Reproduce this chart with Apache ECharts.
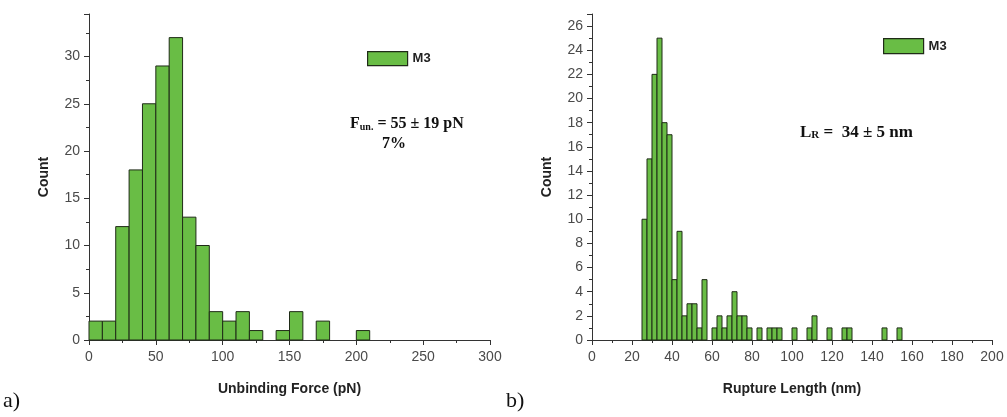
<!DOCTYPE html>
<html>
<head>
<meta charset="utf-8">
<script src="https://cdn.jsdelivr.net/npm/echarts@6/dist/echarts.min.js"></script>
<style>
html,body{margin:0;padding:0;background:#fff;}
#c{width:1007px;height:417px;}
</style>
</head>
<body>
<div id="c"></div>
<script>
// ---- data ----
var forceBinStarts = [0,10,20,30,40,50,60,70,80,90,100,110,120,130,140,150,160,170,180,190,200];
var forceCounts    = [2, 2,12,18,25,29,32,13,10, 3,  2,  3,  1,  0,  1,  3,  0,  2,  0,  0,  1];
var forceBinWidth = 10;

var lengthBinStarts = [25,27.5,30,32.5,35,37.5,40,42.5,45,47.5,50,52.5,55,57.5,60,62.5,65,67.5,70,72.5,75,77.5,80,82.5,85,87.5,90,92.5,95,97.5,100,102.5,105,107.5,110,112.5,115,117.5,120,122.5,125,127.5,130,132.5,135,137.5,140,142.5,145,147.5,150,152.5];
var lengthCounts    = [10,15,22,25,18,17,5,9,2,3,3,1,5,0,1,2,1,2,4,2,2,1,0,1,0,1,1,1,0,0,1,0,0,1,2,0,0,1,0,0,1,1,0,0,0,0,0,0,1,0,0,1];
var lengthBinWidth = 2.5;

var forceXTicks = [0,300,50];
var forceYTicks = [0,34.5,5];
var lengthXTicks = [0,200,20];
var lengthYTicks = [0,27,2];

var seriesName = 'M3';
var forceTitle = 'Unbinding Force (pN)';
var lengthTitle = 'Rupture Length (nm)';
var yTitle = 'Count';

function toBins(starts, counts, w){
  return starts.map(function(s,i){ return [s, s + w, counts[i]]; });
}

var FILL = '#69bd45';
var STROKE = '#1f2b17';

function renderItem(params, api){
  var v = api.value(2);
  if (!v) return null;
  var p0 = api.coord([api.value(0), v]);
  var p1 = api.coord([api.value(1), 0]);
  return {
    type:'rect',
    shape:{x:p0[0], y:p0[1], width:p1[0]-p0[0], height:p1[1]-p0[1]},
    style:{fill:FILL, stroke:STROKE, lineWidth:1}
  };
}

var SANS = 'Liberation Sans, Arial, sans-serif';
var axisCommon = {
  axisLine:{show:true, onZero:false, lineStyle:{color:'#333', width:1}},
  axisTick:{show:true, inside:false, length:5, lineStyle:{color:'#333'}},
  minorTick:{show:true, splitNumber:2, length:3, lineStyle:{color:'#333'}},
  splitLine:{show:false},
  axisLabel:{color:'#4a4a4a', fontFamily:SANS, fontSize:14, margin:9, showMaxLabel:false},
  nameTextStyle:{color:'#222', fontFamily:SANS, fontSize:14, fontWeight:'bold'}
};
function ax(extra){ return echarts.util.merge(echarts.util.clone(axisCommon), extra, true); }

var SERIF = 'Liberation Serif, Times New Roman, serif';

var option = {
  animation:false,
  backgroundColor:'#fff',
  grid:[
    {left:89, right:517, top:14, bottom:77},
    {left:592, right:15, top:14, bottom:77}
  ],
  xAxis:[
    ax({type:'value', gridIndex:0, min:forceXTicks[0], max:forceXTicks[1], interval:forceXTicks[2],
        name:forceTitle, nameLocation:'middle', nameGap:42, axisLabel:{showMaxLabel:true, margin:10}}),
    ax({type:'value', gridIndex:1, min:lengthXTicks[0], max:lengthXTicks[1], interval:lengthXTicks[2],
        name:lengthTitle, nameLocation:'middle', nameGap:42, axisLabel:{showMaxLabel:true, margin:10}})
  ],
  yAxis:[
    ax({type:'value', gridIndex:0, min:forceYTicks[0], max:forceYTicks[1], interval:forceYTicks[2],
        name:yTitle, nameLocation:'middle', nameGap:38}),
    ax({type:'value', gridIndex:1, min:lengthYTicks[0], max:lengthYTicks[1], interval:lengthYTicks[2],
        name:yTitle, nameLocation:'middle', nameGap:38})
  ],
  legend:[
    {left:362, top:46, itemWidth:40, itemHeight:14, itemGap:5, data:[{name:seriesName, icon:'rect'}],
     itemStyle:{color:FILL, borderColor:STROKE, borderWidth:1.2},
     textStyle:{color:'#222', fontWeight:'bold', fontSize:13, fontFamily:SANS}},
    {left:878, top:33, itemWidth:40, itemHeight:15, itemGap:5, data:[{name:seriesName, icon:'rect'}],
     itemStyle:{color:FILL, borderColor:STROKE, borderWidth:1.2},
     textStyle:{color:'#222', fontWeight:'bold', fontSize:13, fontFamily:SANS}}
  ],
  series:[
    {type:'custom', name:seriesName, xAxisIndex:0, yAxisIndex:0, renderItem:renderItem,
     itemStyle:{color:FILL, borderColor:STROKE},
     encode:{x:[0,1], y:2}, data:toBins(forceBinStarts, forceCounts, forceBinWidth)},
    {type:'custom', name:seriesName, xAxisIndex:1, yAxisIndex:1, renderItem:renderItem,
     itemStyle:{color:FILL, borderColor:STROKE},
     encode:{x:[0,1], y:2}, data:toBins(lengthBinStarts, lengthCounts, lengthBinWidth)}
  ],
  graphic:[
    {type:'text', left:3, top:390, style:{text:'a)', font:'22px '+SERIF, fill:'#111'}},
    {type:'text', left:506, top:390, style:{text:'b)', font:'22px '+SERIF, fill:'#111'}},
    {type:'text', left:350, top:116, style:{
      text:'{b|F}{s|un.}{b| = 55 ± 19 pN}',
      rich:{
        b:{fontFamily:SERIF, fontWeight:'bold', fontSize:16, fill:'#111', color:'#111', lineHeight:20, verticalAlign:'bottom'},
        s:{fontFamily:SERIF, fontWeight:'bold', fontSize:10, fill:'#111', color:'#111', lineHeight:16, verticalAlign:'bottom'}
      }}},
    {type:'text', left:382, top:136, style:{text:'7%', font:'bold 16px '+SERIF, fill:'#111'}},
    {type:'text', left:800, top:124, style:{
      text:'{b|L}{s|R}{b| =  34 ± 5 nm}',
      rich:{
        b:{fontFamily:SERIF, fontWeight:'bold', fontSize:17, fill:'#111', color:'#111', lineHeight:20, verticalAlign:'bottom'},
        s:{fontFamily:SERIF, fontWeight:'bold', fontSize:11, fill:'#111', color:'#111', lineHeight:16, verticalAlign:'bottom'}
      }}}
  ]
};

var chart = echarts.init(document.getElementById('c'), null, {renderer:'canvas'});
chart.setOption(option);
</script>
</body>
</html>
